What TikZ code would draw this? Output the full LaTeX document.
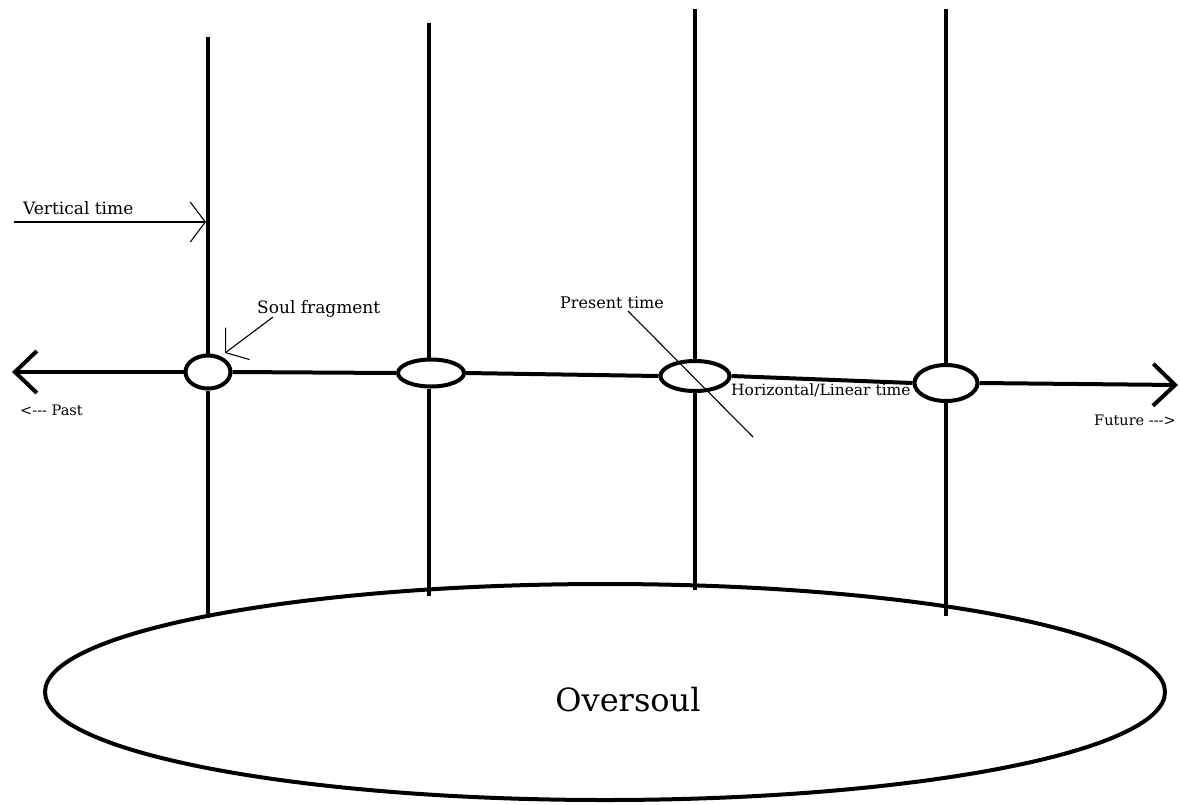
\documentclass[tikz,border=0pt]{standalone}
\usepackage{fontspec}
\setmainfont{DejaVu Serif}
\usepackage{tikz}
\usetikzlibrary{arrows.meta, shapes.geometric}

\newcommand{\dsh}{\mbox{-}}

\begin{document}
\begin{tikzpicture}[
  x=1pt, y=-1pt,
  lbl/.style={font=\fontsize{17}{20}\selectfont, inner sep=0pt, anchor=base west},
  smalllbl/.style={lbl, font=\fontsize{14.5}{17}\selectfont},
  frag/.style={draw=black, ellipse, line width=4pt, inner sep=0pt},
  timeline/.style={line width=4pt},
  axis/.style={timeline, -{Straight Barb[length=22pt, width=42pt]}},
  pointer/.style={line width=1.1pt, -{Straight Barb[length=15pt, width=40pt]}},
  thinline/.style={line width=1.1pt}
]
\useasboundingbox (0,0) rectangle (1180,804);

% soul fragments on the time line
\node[frag, minimum width=45pt, minimum height=33pt] (s1) at (208,372) {};
\node[frag, minimum width=66pt, minimum height=27pt] (s2) at (431,373) {};
\node[frag, minimum width=69pt, minimum height=30pt] (s3) at (695,376) {};
\node[frag, minimum width=63pt, minimum height=36pt] (s4) at (946,383) {};

\node[draw=black, ellipse, line width=4pt, inner sep=0pt, minimum width=1120pt, minimum height=216pt] (over) at (605,692) {};
\node[font=\fontsize{32}{36}\selectfont, inner sep=0pt] (overtxt) at (628,700) {Oversoul};

\coordinate (top1) at (208,37);  \coordinate (bot1) at (208,618);
\coordinate (top2) at (429,23);  \coordinate (bot2) at (429,596);
\coordinate (top3) at (695,9);   \coordinate (bot3) at (695,590);
\coordinate (top4) at (946,9);   \coordinate (bot4) at (946,616);
\coordinate (past) at (12,372);
\coordinate (future) at (1178,385);

% vertical time
\foreach \i in {1,...,4} {
  \draw[timeline] (top\i) -- (top\i |- s\i.north);
  \draw[timeline] (top\i |- s\i.south) -- (bot\i);
}

% horizontal time
\draw[axis] (s1.west) -- (past);
\draw[timeline] (s1.east) -- (s2.west);
\draw[timeline] (s2.east) -- (s3.west);
\draw[timeline] (s3.east) -- (s4.west);
\draw[axis] (s4.east) -- (future);

\node[lbl] (vt) at (23,214) {Vertical time};
\coordinate (vtstart) at (14,222);
\coordinate (vtend) at (206,222);
\draw[pointer] (vtstart) -- (vtend);

\node[lbl] (sf) at (257,313) {Soul fragment};
\coordinate (sfstart) at (273,317);
\coordinate (sftip) at (225,353);
\draw[pointer] (sfstart) -- (sftip);

\node[lbl, font=\fontsize{16}{19}\selectfont] (pt) at (560,308) {Present time};
\coordinate (ptstart) at (628,311);
\coordinate (ptend) at (753,437);
\draw[thinline] (ptstart) -- (ptend);

\node[lbl, font=\fontsize{15.5}{18}\selectfont] (hl) at (731,395) {Horizontal/Linear time};
\node[smalllbl] (pastlbl) at (20,415) {<\dsh\dsh\dsh{} Past};
\node[smalllbl] (futlbl) at (1094,425) {Future \dsh\dsh\dsh>};
\end{tikzpicture}
\end{document}
